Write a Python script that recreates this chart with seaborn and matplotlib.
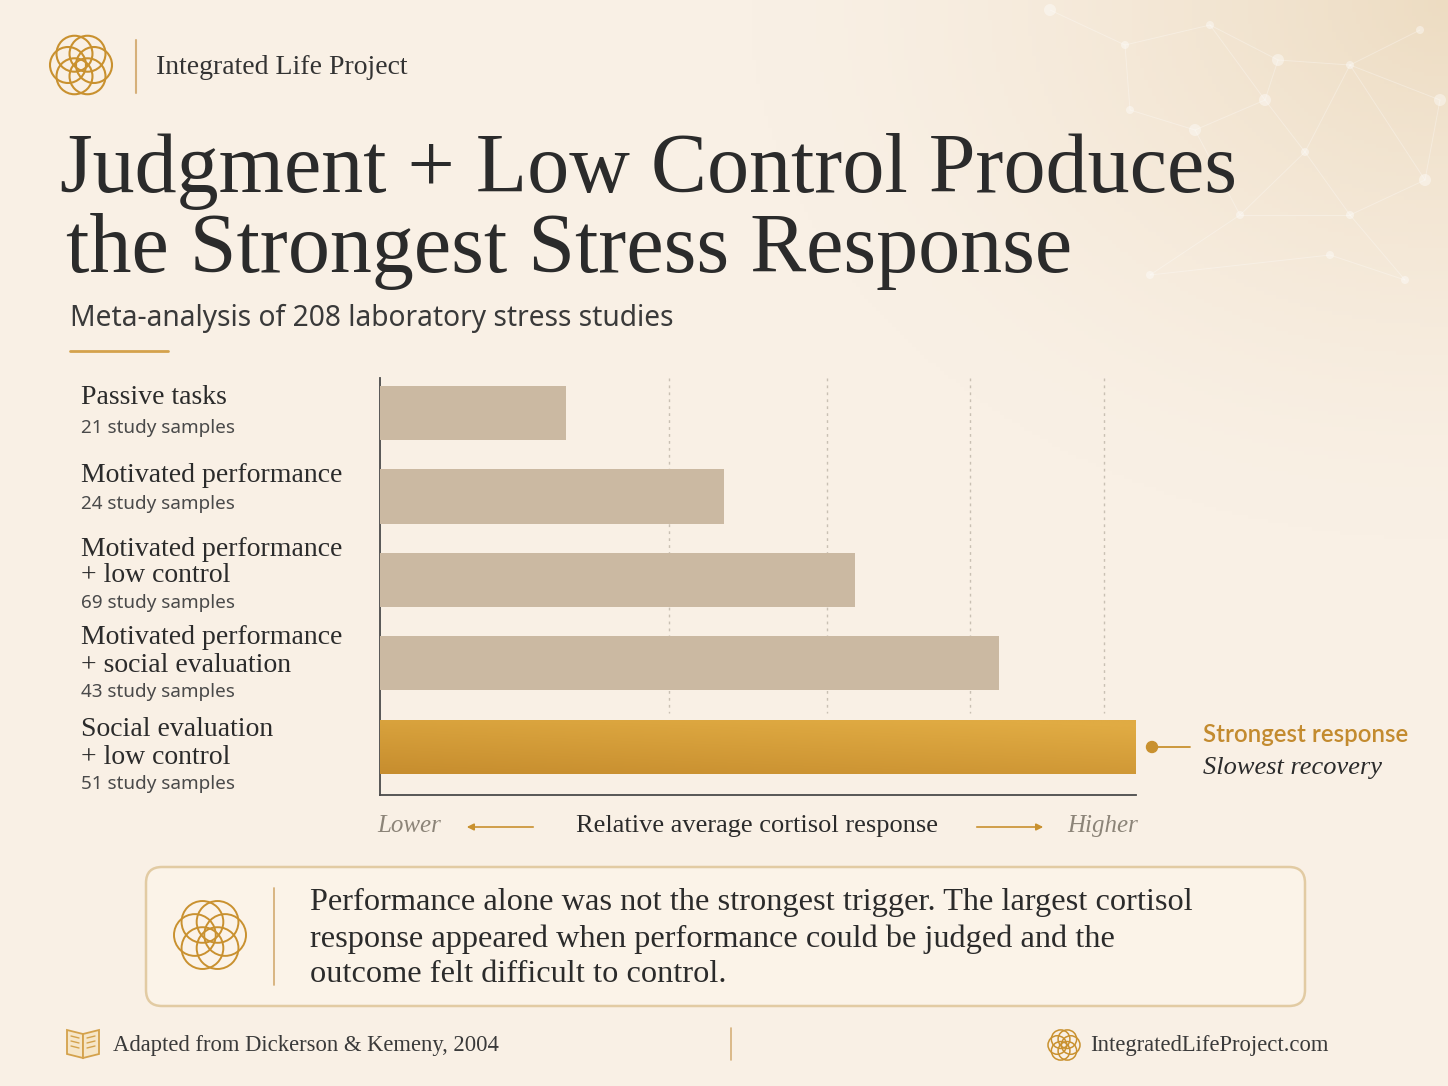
import numpy as np
import pandas as pd
import matplotlib
matplotlib.use("Agg")
import matplotlib.pyplot as plt
import seaborn as sns
from matplotlib.patches import Circle, FancyBboxPatch, Polygon

# ---------------- data ----------------
categories = ["Passive tasks", "Motivated performance", "Motivated performance\n+ low control",
              "Motivated performance\n+ social evaluation", "Social evaluation\n+ low control"]
response = [24.6, 45.5, 62.8, 81.9, 100.0]
samples = [21, 24, 69, 43, 51]
grid_values = [38.2, 59.1, 78.0, 95.8]

W, H = 1448, 1086
BG = "#f8efe3"
TAN = "#cbb9a2"
GOLD = "#c9912f"
DARK = "#2b2b2b"
SERIF = ["Liberation Serif", "DejaVu Serif"]
SANS = ["Noto Sans", "DejaVu Sans"]

sns.set_theme(style="white")
plt.rcParams["font.family"] = SERIF

fig = plt.figure(figsize=(W / 100, H / 100), dpi=100)
fig.patch.set_facecolor(BG)

# ---------- background axes in pixel coordinates ----------
bg = fig.add_axes([0, 0, 1, 1], zorder=0)
bg.set_xlim(0, W)
bg.set_ylim(H, 0)
bg.axis("off")

yy, xx = np.mgrid[0:H:4, 0:W:4]
d = np.sqrt((xx - W) ** 2 + (yy * 1.3) ** 2)
t = np.clip(1 - d / 700, 0, 1) ** 1.5
base = np.array([0xf9, 0xf0, 0xe5]) / 255
warm = np.array([0xed, 0xdc, 0xc2]) / 255
img = base[None, None, :] * (1 - t[..., None]) + warm[None, None, :] * t[..., None]
bg.imshow(img, extent=[0, W, H, 0], aspect="auto", zorder=0)

# decorative network in the top right
nodes = [(1050, 10), (1125, 45), (1210, 25), (1278, 60), (1350, 65), (1420, 30),
         (1265, 100), (1305, 152), (1350, 215), (1425, 180), (1405, 280),
         (1240, 215), (1195, 130), (1130, 110), (1150, 275), (1440, 100), (1330, 255)]
edges = [(0, 1), (1, 2), (2, 3), (3, 4), (4, 5), (1, 13), (13, 12), (12, 6), (6, 3),
         (6, 7), (7, 8), (8, 9), (9, 4), (7, 4), (8, 10), (12, 11), (11, 8), (11, 14),
         (14, 16), (16, 10), (4, 15), (15, 9), (2, 6), (7, 11)]
for a, b in edges:
    bg.plot([nodes[a][0], nodes[b][0]], [nodes[a][1], nodes[b][1]], color="white",
            alpha=0.3, lw=0.7, zorder=1)
for i, (nx, ny) in enumerate(nodes):
    bg.add_patch(Circle((nx, ny), 4 if i % 3 else 6, color="white", alpha=0.4, zorder=1, lw=0))


def logo(cx, cy, R, lw=1.5, color="#c9912f"):
    r = R * 0.58
    off = R - r
    for k in range(6):
        a = np.deg2rad(60 * k)
        bg.add_patch(Circle((cx + off * np.cos(a), cy + off * np.sin(a)), r, fill=False,
                            ec=color, lw=lw, zorder=3))


# header
logo(81, 65, 31)
bg.plot([136, 136], [40, 93], color="#d6b07a", lw=1.5, zorder=3)
bg.text(156, 67, "Integrated Life Project", fontsize=20, color="#333333", va="center",
        ha="left", family=SERIF, zorder=4)

# title
bg.text(60, 192, "Judgment + Low Control Produces", fontsize=60.5, color=DARK,
        va="baseline", ha="left", family=SERIF, zorder=4)
bg.text(66, 272, "the Strongest Stress Response", fontsize=60.5, color=DARK,
        va="baseline", ha="left", family=SERIF, zorder=4)
bg.text(70, 318, "Meta-analysis of 208 laboratory stress studies", fontsize=20.3, color="#3a3a3a",
        va="center", ha="left", family=SANS, zorder=4)
bg.plot([70, 168], [351, 351], color="#d4a24c", lw=2, zorder=4)

# ---------------- chart ----------------
ax = fig.add_axes([380 / W, 1 - 795 / H, 756 / W, 417 / H], zorder=2)
ax.set_facecolor("none")
df = pd.DataFrame({"category": categories, "response": response, "samples": samples})
palette = {c: TAN for c in categories}
palette[categories[-1]] = GOLD
sns.barplot(data=df, y="category", x="response", hue="category", palette=palette,
            orient="h", width=0.65, legend=False, ax=ax, saturation=1, zorder=3,
            linewidth=0, edgecolor="none")
ax.set_xlim(0, 100)
ax.set_ylim(len(categories) - 1 + 0.58, -0.42)
ax.vlines(grid_values, -0.42, 3.6, colors="#c9c0b3", linestyles=(0, (2, 3)), lw=1, zorder=1)

# gradient on the highlighted bar
gold_patch = ax.patches[len(categories) - 1]
bx, by = gold_patch.get_x(), gold_patch.get_y()
bw, bh = gold_patch.get_width(), gold_patch.get_height()
gy, gx = np.mgrid[0:1:60j, 0:1:200j]
tg = np.clip(0.35 * gx + 0.65 * (1 - gy) + 0.1, 0, 1)
c0 = np.array([0xc4, 0x8a, 0x2c]) / 255
c1 = np.array([0xe0, 0xab, 0x43]) / 255
gimg = c0[None, None, :] * (1 - tg[..., None]) + c1[None, None, :] * tg[..., None]
im = ax.imshow(gimg, extent=[bx, bx + bw, by + bh, by], aspect="auto", zorder=4,
               origin="upper")
im.set_clip_path(gold_patch)
ax.set_xlim(0, 100)
ax.set_ylim(len(categories) - 1 + 0.58, -0.42)

ax.set_xticks([])
ax.set_yticks([])
ax.set_xlabel("")
ax.set_ylabel("")
for s in ["top", "right"]:
    ax.spines[s].set_visible(False)
for s in ["left", "bottom"]:
    ax.spines[s].set_color("#4a4a4a")
    ax.spines[s].set_linewidth(1.3)

# category labels (left side)
label_y = [(398, [], 428), (475, [], 504), (549, [576], 603), (638, [665], 692), (730, [757], 784)]
for i, cat in enumerate(categories):
    lines = cat.split("\n")
    first, extra, sub = label_y[i]
    ys = [first] + extra
    for ln, yv in zip(lines, ys):
        bg.text(81, yv, ln, fontsize=20, color=DARK, va="center", ha="left", family=SERIF, zorder=4)
    bg.text(81, sub, f"{samples[i]} study samples", fontsize=13.6, color="#4a4a4a",
            va="center", ha="left", family=SANS, zorder=4)

# callout
bg.plot([1152, 1190], [747, 747], color=GOLD, lw=1.3, zorder=4)
bg.add_patch(Circle((1152, 747), 5.5, color=GOLD, zorder=5))
bg.text(1203, 734, "Strongest response", fontsize=17.3, color="#c38b2f", fontweight="semibold",
        va="center", ha="left", family=["Lato", "DejaVu Sans"], zorder=4)
bg.text(1203, 768, "Slowest recovery", fontsize=19, color=DARK, style="italic",
        va="center", ha="left", family=SERIF, zorder=4)

# axis caption
bg.text(377, 826, "Lower", fontsize=18, color="#8c8478", style="italic", va="center",
        ha="left", family=SERIF, zorder=4)
bg.text(1138, 826, "Higher", fontsize=18, color="#8c8478", style="italic", va="center",
        ha="right", family=SERIF, zorder=4)
bg.text(757, 826, "Relative average cortisol response", fontsize=19, color=DARK,
        va="center", ha="center", family=SERIF, zorder=4)
bg.annotate("", xy=(464, 827), xytext=(536, 827),
            arrowprops=dict(arrowstyle="-|>", color="#c9912f", lw=1.2, mutation_scale=10), zorder=4)
bg.annotate("", xy=(1046, 827), xytext=(974, 827),
            arrowprops=dict(arrowstyle="-|>", color="#c9912f", lw=1.2, mutation_scale=10), zorder=4)

# takeaway box
bg.add_patch(FancyBboxPatch((146, 867), 1159, 139, boxstyle="round,pad=0,rounding_size=16",
                            fc="#fbf3e8", ec="#e2cba3", lw=1.8, zorder=2))
logo(210, 935, 36, lw=1.4)
bg.plot([274, 274], [888, 985], color="#d6b07a", lw=1.3, zorder=3)
box_lines = ["Performance alone was not the strongest trigger. The largest cortisol",
             "response appeared when performance could be judged and the",
             "outcome felt difficult to control."]
for ln, yv in zip(box_lines, [902, 939, 975]):
    bg.text(310, yv, ln, fontsize=23.3, color=DARK, va="center", ha="left", family=SERIF, zorder=4)

# footer
book_c = "#d4a24c"
bg.add_patch(Polygon([(83, 1034), (67, 1030), (67, 1054), (83, 1058)], closed=True,
                     fc="#f6e6c8", ec=book_c, lw=1.3, zorder=3))
bg.add_patch(Polygon([(83, 1034), (99, 1030), (99, 1054), (83, 1058)], closed=True,
                     fc="#f6e6c8", ec=book_c, lw=1.3, zorder=3))
for yv in [1038, 1043, 1048]:
    bg.plot([71, 79], [yv - 2, yv], color=book_c, lw=1, zorder=4)
    bg.plot([87, 95], [yv, yv - 2], color=book_c, lw=1, zorder=4)
bg.text(113, 1045, "Adapted from Dickerson & Kemeny, 2004", fontsize=16.3, color="#3a3a3a",
        va="center", ha="left", family=SERIF, zorder=4)
bg.plot([731, 731], [1028, 1060], color="#d6b07a", lw=1.2, zorder=3)
logo(1064, 1045, 16, lw=1.1)
bg.text(1090, 1045, "IntegratedLifeProject.com", fontsize=16.3, color="#3a3a3a",
        va="center", ha="left", family=SERIF, zorder=4)

fig.savefig("out.png", dpi=100, facecolor=BG)
